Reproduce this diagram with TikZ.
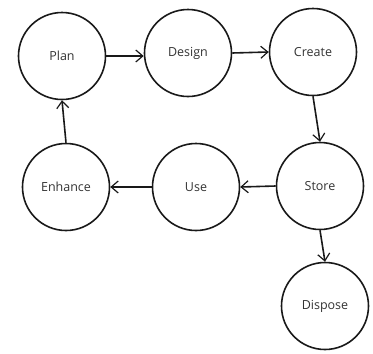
\documentclass[tikz,border=0pt]{standalone}
\usepackage{fontspec}
\setmainfont{Open Sans}
\usetikzlibrary{arrows.meta}
\begin{document}
\begin{tikzpicture}[x=1pt,y=-1pt,
  stage/.style={circle,draw=black!90,line width=1.6pt,minimum size=87pt,inner sep=0pt,
    font=\fontsize{12.5}{14}\selectfont,text=black!80},
  flow/.style={draw=black!90,line width=1.6pt,-{Straight Barb[length=7pt,width=12pt,line width=1.2pt]}}]
\useasboundingbox (0,0) rectangle (373,354);
\node[stage] (plan)    at (62,56)   {Plan};
\node[stage] (design)  at (188,53)  {Design};
\node[stage] (create)  at (313,52)  {Create};
\node[stage] (enhance) at (66,187)  {Enhance};
\node[stage] (use)     at (196,187) {Use};
\node[stage] (store)   at (320,186) {Store};
\node[stage] (dispose) at (325,306) {Dispose};
\draw[flow] (plan.east) -- (plan.east -| design.west);
\draw[flow] (design.east) -- (create.west);
\draw[flow] (create.south) -- (store.north);
\draw[flow] (store.west) -- (use.east);
\draw[flow] (use.west) -- (enhance.east);
\draw[flow] (enhance.north) -- (plan.south);
\draw[flow] (store.south) -- (dispose.north);
\end{tikzpicture}
\end{document}
